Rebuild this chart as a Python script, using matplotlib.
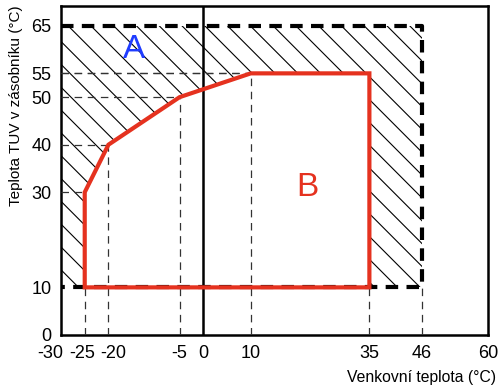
import matplotlib
matplotlib.use("Agg")
import numpy as np
import matplotlib.pyplot as plt
import matplotlib.transforms as mtransforms
from matplotlib.patches import Polygon

plt.rcParams['font.family'] = ['Liberation Sans', 'DejaVu Sans']
plt.rcParams['axes.unicode_minus'] = False

# operating envelope (B) of the heat pump
b_x = [-25, -25, -20, -5, 10, 35, 35]
b_y = [10, 30, 40, 50, 55, 55, 10]

# outer region (A) with backup heater
a_x = [-30, 46, 46, -30]
a_y = [10, 10, 65, 65]

xticks = [-30, -25, -20, -5, 0, 10, 35, 46, 60]
yticks = [0, 10, 30, 40, 50, 55, 65]

fig = plt.figure(figsize=(5, 3.89), dpi=100)
ax = fig.add_axes([0.122, 0.139, 0.854, 0.846])
ax.set_xlim(-30, 60)
ax.set_ylim(0, 69.2)

# hatched area A (diagonal lines clipped to the region)
a_patch = Polygon(list(zip(a_x, a_y)), closed=True, fill=False, lw=0)
ax.add_patch(a_patch)
for c in np.arange(31.7 - 4.8 * 12, 31.7 + 4.8 * 22, 4.8):
    ln, = ax.plot([-40, 60], [c + 40, c - 60], color='black', lw=0.8, zorder=1)
    ln.set_clip_path(a_patch)

# white interior of B
ax.add_patch(Polygon(list(zip(b_x, b_y)), closed=True, facecolor='white',
                     edgecolor='none', zorder=2))

# thin dashed guide lines
gkw = dict(color='#333333', lw=0.9, ls=(0, (6, 4.5)), zorder=3)
for xv, yv in zip(b_x[1:6], b_y[1:6]):
    ax.plot([-30, xv], [yv, yv], **gkw)
for xv, yv in [(-25, 10), (-20, 40), (-5, 50), (10, 55), (35, 10), (46, 10)]:
    ax.plot([xv, xv], [0, yv], **gkw)

# zero line
ax.axvline(0, color='black', lw=1.8, zorder=3)

# thick dashed border of A
dkw = dict(color='black', lw=3, ls=(0, (3, 2)), zorder=4)
ax.plot([-30, 46, 46, -30], [65, 65, 10, 10], **dkw)

# red outline of B
ax.add_patch(Polygon(list(zip(b_x, b_y)), closed=True, fill=False,
                     edgecolor='#e5321f', lw=3, joinstyle='miter', zorder=5))

ax.text(-14.5, 60, 'A', color='#1f3cff', fontsize=24, ha='center', va='center')
ax.text(22, 31, 'B', color='#e5321f', fontsize=24, ha='center', va='center')

ax.set_xticks(xticks)
ax.set_yticks(yticks)
ax.tick_params(length=0, labelsize=13, pad=7)
# spread the crowded labels on the left a little
shifts = {0: -0.11, 1: -0.03, 2: 0.05}
for i, lab in enumerate(ax.get_xticklabels()):
    if i in shifts:
        off = mtransforms.ScaledTranslation(shifts[i], 0, fig.dpi_scale_trans)
        lab.set_transform(lab.get_transform() + off)
for s in ax.spines.values():
    s.set_linewidth(1.8)

ax.set_ylabel('Teplota TUV v zásobníku (°C)', fontsize=11, loc='top', labelpad=6)
fig.text(0.992, 0.01, 'Venkovní teplota (°C)', fontsize=11.3, ha='right', va='bottom')

fig.savefig('out.png', dpi=100)
